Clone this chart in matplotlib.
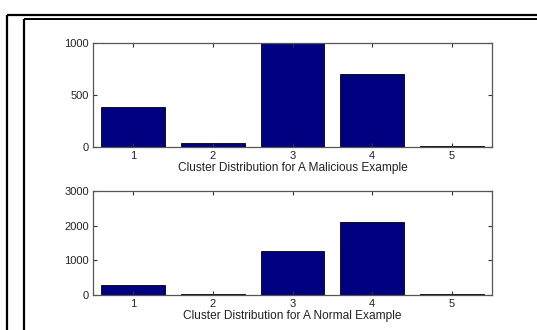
import numpy as np
import matplotlib.pyplot as plt
from matplotlib.lines import Line2D

plt.rcParams['font.family'] = ['Liberation Sans', 'DejaVu Sans']

clusters = [1, 2, 3, 4, 5]
malicious_counts = [388, 35, 1010, 701, 5]
normal_counts = [279, 20, 1274, 2108, 20]

W, H = 537, 330
fig = plt.figure(figsize=(W / 100, H / 100), dpi=100)


def add_axes_px(left, top, right, bottom):
    return fig.add_axes([left / W, 1 - bottom / H, (right - left) / W, (bottom - top) / H])


def style(ax, ymax, yticks, xlabel):
    ax.set_xlim(0.5, 5.5)
    ax.set_ylim(0, ymax)
    ax.set_xticks(clusters)
    ax.set_yticks(yticks)
    ax.tick_params(direction='in', top=True, right=True, length=3, width=0.8,
                   labelsize=8, colors='#333333', labelcolor='#222222', pad=3)
    for s in ax.spines.values():
        s.set_color('#555555')
        s.set_linewidth(0.9)
    ax.set_xlabel(xlabel, fontsize=8.6, labelpad=0.5, color='#222222')


ax1 = add_axes_px(93, 43, 492, 147)
ax1.bar(clusters, malicious_counts, width=0.8, color='#000080', edgecolor='black', linewidth=0.6)
style(ax1, 1000, [0, 500, 1000], 'Cluster Distribution for A Malicious Example')

ax2 = add_axes_px(93, 191, 492, 295)
ax2.bar(clusters, normal_counts, width=0.8, color='#000080', edgecolor='black', linewidth=0.6)
style(ax2, 3000, [0, 1000, 2000, 3000], 'Cluster Distribution for A Normal Example')

# page frame lines (pixel coordinates)
def frame_line(xs, ys, lw, color='black'):
    fig.add_artist(Line2D([x / W for x in xs], [1 - y / H for y in ys],
                          transform=fig.transFigure, color=color, linewidth=lw,
                          solid_capstyle='butt'))

frame_line([7.5, W], [15.2, 15.2], 1.6)
frame_line([7.5, 7.5], [15.2, H], 1.6)
frame_line([24, W], [19, 19], 1.4)
frame_line([24, 24], [19, H], 1.6)

fig.savefig('out.png', dpi=100)
